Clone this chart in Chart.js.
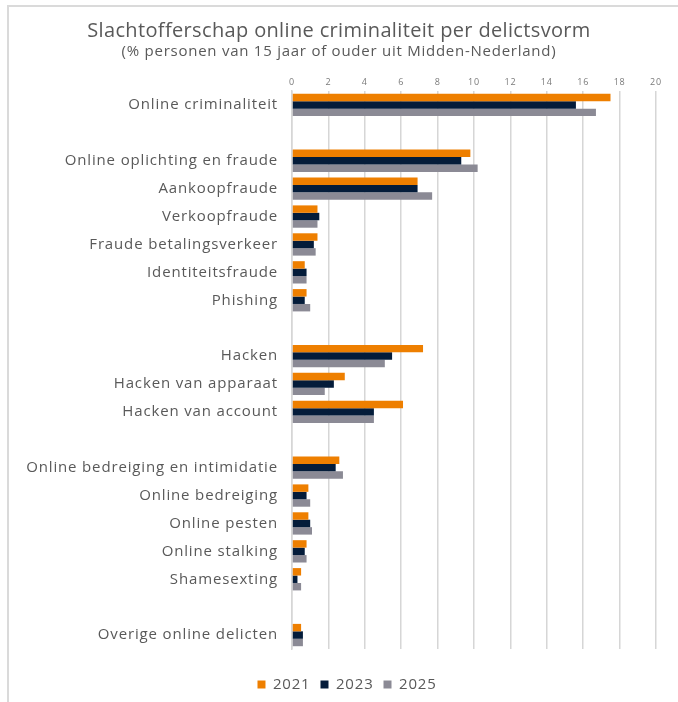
<!DOCTYPE html>
<html>
<head>
<meta charset="utf-8">
<script src="https://cdn.jsdelivr.net/npm/chart.js@4"></script>
<style>
  html, body { margin: 0; padding: 0; background: #fff; overflow: hidden; }
  #wrap { position: relative; width: 678px; height: 702px; }
  #frame { position: absolute; left: 7px; top: 5px; width: 720px; height: 760px; border: 2px solid #dadada; box-sizing: border-box; }
  #c { position: absolute; left: 0; top: 0; }
</style>
</head>
<body>
<div id="wrap">
  <div id="frame"></div>
  <canvas id="c" width="678" height="702"></canvas>
</div>
<script>
const categories = [
  "Online criminaliteit", "",
  "Online oplichting en fraude", "Aankoopfraude", "Verkoopfraude", "Fraude betalingsverkeer", "Identiteitsfraude", "Phishing", "",
  "Hacken", "Hacken van apparaat", "Hacken van account", "",
  "Online bedreiging en intimidatie", "Online bedreiging", "Online pesten", "Online stalking", "Shamesexting", "",
  "Overige online delicten"
];
const years = ["2021", "2023", "2025"];
const values2021 = [17.5, null, 9.8, 6.9, 1.4, 1.4, 0.7, 0.8, null, 7.2, 2.9, 6.1, null, 2.6, 0.9, 0.9, 0.8, 0.5, null, 0.5];
const values2023 = [15.6, null, 9.3, 6.9, 1.5, 1.2, 0.8, 0.7, null, 5.5, 2.3, 4.5, null, 2.4, 0.8, 1.0, 0.7, 0.3, null, 0.6];
const values2025 = [16.7, null, 10.2, 7.7, 1.4, 1.3, 0.8, 1.0, null, 5.1, 1.8, 4.5, null, 2.8, 1.0, 1.1, 0.8, 0.5, null, 0.6];
const xTicks = [0, 2, 4, 6, 8, 10, 12, 14, 16, 18, 20];
const colors = ["#EE7F00", "#041C3A", "#8B8A95"];

const FONT = "'Open Sans', 'DejaVu Sans', sans-serif";
const TXT = "#595959";

const legendShift = {
  id: "legendShift",
  afterLayout(chart) {
    if (chart.legend) { chart.legend.left += 8; chart.legend.right += 8; }
  }
};

const chart = new Chart(document.getElementById("c"), {
  type: "bar",
  data: {
    labels: categories,
    datasets: [values2021, values2023, values2025].map((d, i) => ({
      label: years[i],
      data: d,
      backgroundColor: colors[i],
      borderWidth: 0,
      categoryPercentage: 0.8,
      barPercentage: 1.0
    }))
  },
  plugins: [legendShift],
  options: {
    indexAxis: "y",
    responsive: false,
    animation: false,
    layout: { padding: { left: 22, right: 22, top: 0, bottom: 0 } },
    plugins: {
      title: {
        display: true,
        text: "Slachtofferschap online criminaliteit per delictsvorm",
        color: TXT,
        font: { family: FONT, size: 20, weight: "normal" },
        padding: { top: 19, bottom: 0 }
      },
      subtitle: {
        display: true,
        text: "(% personen van 15 jaar of ouder uit Midden-Nederland)",
        color: TXT,
        font: { family: FONT, size: 15, weight: "normal" },
        padding: { top: 0, bottom: 0 }
      },
      legend: {
        position: "bottom",
        labels: {
          color: TXT,
          font: { family: FONT, size: 15 },
          boxWidth: 8,
          boxHeight: 8,
          padding: 10
        }
      },
      tooltip: { enabled: false }
    },
    scales: {
      x: {
        position: "top",
        min: 0,
        max: 20,
        afterBuildTicks: (s) => { s.ticks = xTicks.map(v => ({ value: v })); },
        ticks: { color: "#7a7a7a", font: { family: FONT, size: 9 }, padding: 3 },
        grid: { color: "#d6d6d6", lineWidth: 1.5, drawTicks: false },
        border: { display: false },
        afterFit: (s) => { s.height = 30; }
      },
      xSpacer: {
        type: "linear",
        axis: "x",
        position: "bottom",
        display: true,
        ticks: { display: false },
        grid: { display: false, drawTicks: false },
        border: { display: false },
        afterFit: (s) => { s.height = 18; }
      },
      y: {
        ticks: { color: TXT, font: { family: FONT, size: 15 }, padding: 14, autoSkip: false },
        grid: { display: false, drawTicks: false },
        border: { display: true, color: "#d6d6d6", width: 1.5 },
        afterFit: (s) => { s.width = 270; }
      }
    }
  }
});

function withSpacing(obj, method, sp) {
  if (!obj || typeof obj[method] !== "function") return;
  const orig = obj[method];
  obj[method] = function (...args) {
    const ctx = chart.ctx;
    const prev = ctx.letterSpacing;
    ctx.letterSpacing = sp;
    try { return orig.apply(this, args); }
    finally { ctx.letterSpacing = prev; }
  };
}

chart.boxes.forEach(b => {
  if (b === chart.titleBlock) {
    withSpacing(b, "draw", "0.35px");
  } else if (b === chart.legend) {
    withSpacing(b, "fit", "0.8px");
    withSpacing(b, "draw", "0.8px");
  } else if (b.options && typeof b.options.text === "string" && b.options.text.startsWith("(%")) {
    withSpacing(b, "draw", "0.75px");
  }
});
withSpacing(chart.scales.y, "drawLabels", "0.85px");
withSpacing(chart.scales.x, "drawLabels", "0.8px");
chart.update();
</script>
</body>
</html>
